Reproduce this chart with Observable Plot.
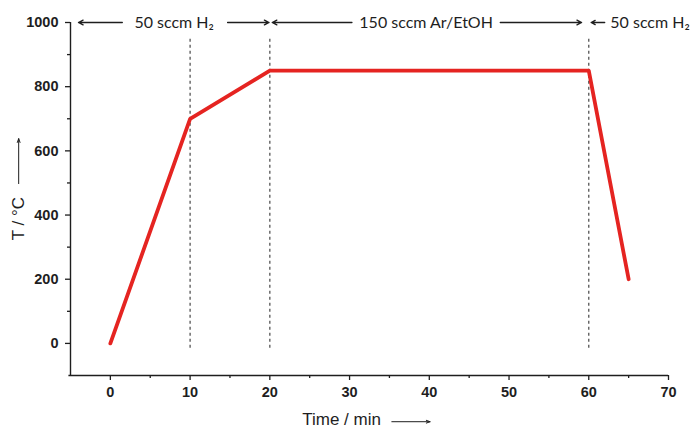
<!DOCTYPE html>
<html>
<head>
<meta charset="utf-8">
<script src="https://cdn.jsdelivr.net/npm/d3@7"></script>
<script src="https://cdn.jsdelivr.net/npm/@observablehq/plot@0.6"></script>
<style>
  body { margin: 0; background: #fff; }
  #chart svg { overflow: visible; }
</style>
</head>
<body>
<div id="chart"></div>
<script>
// Temperature profile
const time = [0, 10, 20, 60, 65];
const temp = [0, 700, 850, 850, 200];

// Phase boundaries (dashed)
const boundaries = [10, 20, 60];
const boundaryLow = -15;
const boundaryHigh = 950;

// Ticks
const xTicks = [0, 10, 20, 30, 40, 50, 60, 70];
const xMinor = [5, 15, 25, 35, 45, 55, 65];
const yTicks = [0, 200, 400, 600, 800, 1000];
const yMinor = [100, 300, 500, 700, 900];

// Gas-flow annotations
const phaseLabels = ["50 sccm H\u2082", "150 sccm Ar/EtOH", "50 sccm H\u2082"];
const phaseLabelX = [8, 39.6, 62.7];
const phaseAnchor = ["middle", "middle", "start"];
const arrowFrom = [1.5, 14.7, 30.3, 48.9, 62.0];
const arrowTo = [-4.0, 19.9, 20.3, 59.1, 60.3];
const annotY = 1000;

const points = time.map((t, i) => ({t, T: temp[i]}));
const labels = phaseLabels.map((s, i) => ({s, x: phaseLabelX[i], a: phaseAnchor[i]}));
const arrows = arrowFrom.map((x1, i) => ({x1, x2: arrowTo[i]}));

const red = "#e52421";
const ink = "#1e1e1e";
const annFont = "Lato, 'Open Sans', sans-serif";

const plot = Plot.plot({
  width: 690,
  height: 428,
  marginLeft: 70,
  marginRight: 22,
  marginTop: 22,
  marginBottom: 53,
  style: {fontFamily: "'Liberation Sans', Arial, sans-serif", background: "#fff", color: ink},
  x: {domain: [-5, 70]},
  y: {domain: [-100, 1000]},
  marks: [
    // axes frame
    Plot.ruleX([-5], {y1: -100, y2: 1000, stroke: ink, strokeWidth: 1.4}),
    Plot.ruleY([-100], {x1: -5.2, x2: 70, stroke: ink, strokeWidth: 1.4}),
    Plot.axisY({ticks: yTicks, tickFormat: d3.format("d"), tickSize: 5, tickPadding: 7, label: null, fontSize: 14.5, fontWeight: "bold", stroke: ink, strokeWidth: 1.3}),
    Plot.axisY({ticks: yMinor, tickSize: 3, label: null, text: null, stroke: ink, strokeWidth: 1.3}),
    Plot.axisX({ticks: xTicks, tickFormat: d3.format("d"), tickSize: 5, tickPadding: 6, label: null, fontSize: 14.5, fontWeight: "bold", stroke: ink, strokeWidth: 1.3}),
    Plot.axisX({ticks: xMinor, tickSize: 3, label: null, text: null, stroke: ink, strokeWidth: 1.3}),
    // dashed boundaries
    Plot.ruleX(boundaries, {y1: boundaryLow, y2: boundaryHigh, stroke: "#555", strokeWidth: 1.3, strokeDasharray: "3,3"}),
    // profile
    Plot.line(points, {x: "t", y: "T", stroke: red, strokeWidth: 3.8, strokeLinejoin: "round"}),
    // annotations
    Plot.arrow(arrows, {x1: "x1", x2: "x2", y1: annotY, y2: annotY, stroke: ink, strokeWidth: 1.3, headLength: 6, headAngle: 55}),
    Plot.text(labels, {x: "x", y: annotY, text: "s", textAnchor: "start", filter: d => d.a === "start", fontSize: 16, fontFamily: annFont, fill: ink}),
    Plot.text(labels, {x: "x", y: annotY, text: "s", filter: d => d.a === "middle", fontSize: 16, fontFamily: annFont, fill: ink}),
    // axis titles
    Plot.text(["T / \u00b0C"], {x: -11.5, y: 389, rotate: -90, fontSize: 17, fill: ink}),
    Plot.arrow([0], {x1: -11.5, x2: -11.5, y1: 498, y2: 638, stroke: ink, strokeWidth: 1, headLength: 6, headAngle: 40}),
    Plot.text(["Time / min"], {x: 24.06, y: -238, textAnchor: "start", fontSize: 17, fill: ink}),
    Plot.arrow([0], {x1: 35.3, x2: 40.1, y1: -244, y2: -244, stroke: ink, strokeWidth: 1, headLength: 6, headAngle: 40})
  ]
});
document.getElementById("chart").appendChild(plot);
</script>
</body>
</html>
